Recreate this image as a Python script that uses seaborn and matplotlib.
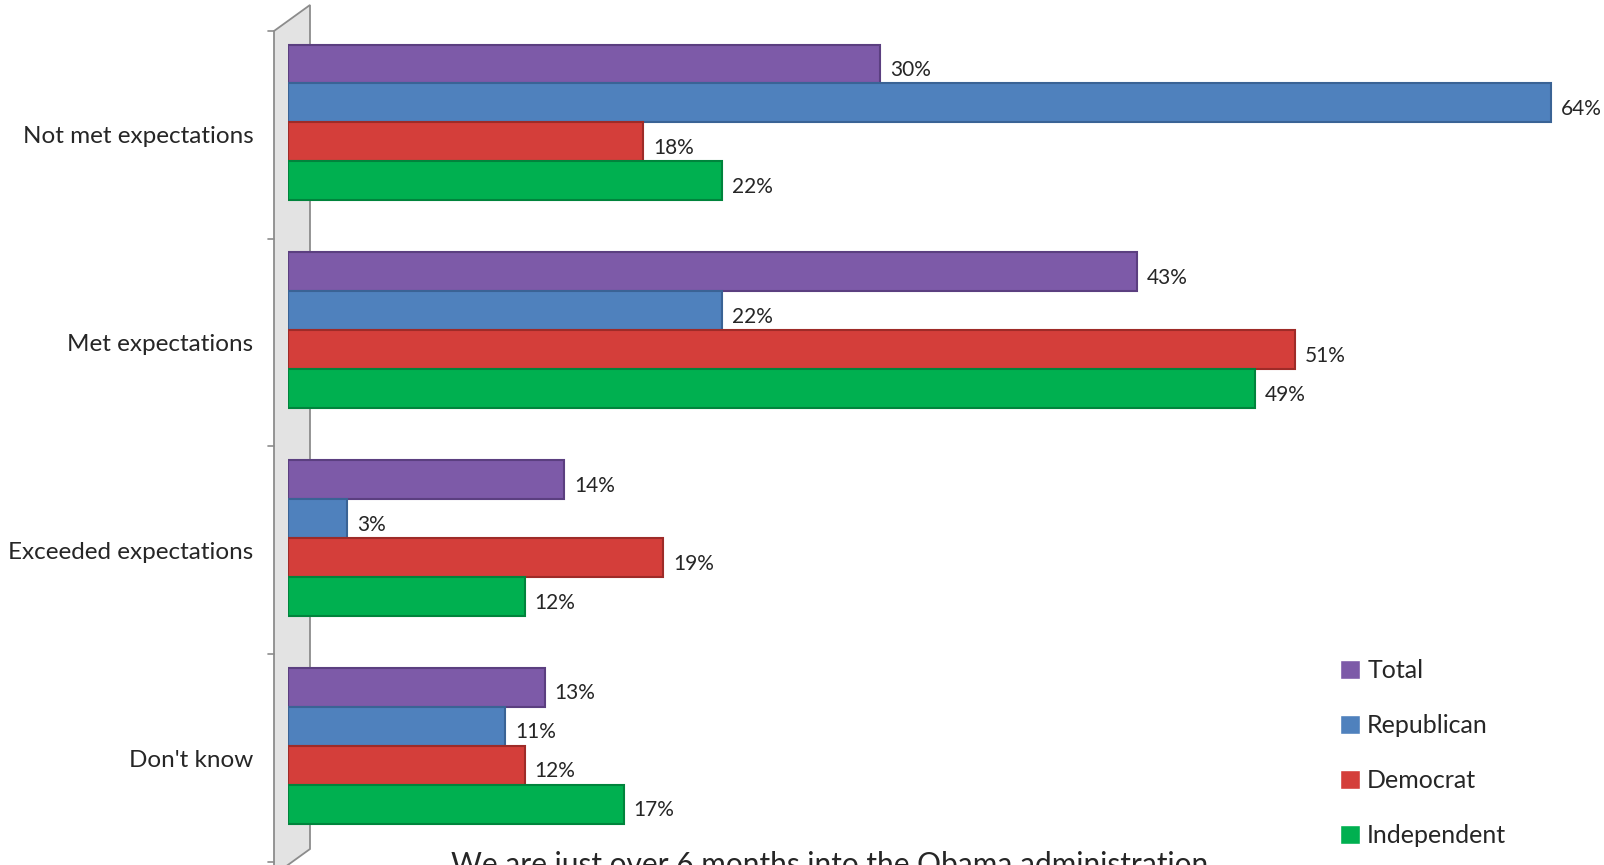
import matplotlib
matplotlib.use("Agg")
import matplotlib.pyplot as plt
import matplotlib.transforms as mtransforms
from matplotlib.patches import Polygon
import pandas as pd
import seaborn as sns

# data
categories = ["Not met expectations", "Met expectations", "Exceeded expectations", "Don't know"]
groups = ["Total", "Republican", "Democrat", "Independent"]
total = [30, 43, 14, 13]
republican = [64, 22, 3, 11]
democrat = [18, 51, 19, 12]
independent = [22, 49, 12, 17]
title = "We are just over 6 months into the Obama administration"

colors = ["#7D5AA8", "#4F81BD", "#D43E3A", "#00B050"]
edges = ["#5B3F80", "#3A6395", "#9E2B28", "#00843C"]

rows = []
for g, vals in zip(groups, [total, republican, democrat, independent]):
    for c, v in zip(categories, vals):
        rows.append({"category": c, "group": g, "value": v})
df = pd.DataFrame(rows)

sns.set_style("white")
plt.rcParams['font.family'] = ['Lato', 'DejaVu Sans']

W, H = 1604, 865
fig = plt.figure(figsize=(W / 100, H / 100), dpi=100)
ax = fig.add_axes([288 / W, 3 / H, 0.80, 831 / H])
ax.patch.set_visible(False)

sns.barplot(data=df, y="category", x="value", hue="group", order=categories,
            hue_order=groups, palette=colors, saturation=1, orient="h",
            width=0.75, ax=ax, legend=True)

# darker edges to hint at the bevelled 3D look
for cont, ec in zip(ax.containers, edges):
    for bar in cont:
        bar.set_edgecolor(ec)
        bar.set_linewidth(1.5)
    anns = ax.bar_label(cont, labels=[f"{int(v)}%" for v in cont.datavalues],
                        padding=7, fontsize=15, clip_on=False)
    for a in anns:
        a.xyann = (7, -4.5)  # labels sit a little low, as in the 3D original

ax.set_xlim(0, 65)
ax.set_ylim(3.56, -0.44)
ax.set_xlabel("")
ax.set_ylabel("")
ax.set_xticks([])
ax.set_yticks([i + 0.06 for i in range(len(categories))], categories)
ax.tick_params(axis="y", labelsize=17.5, pad=25, length=0)
for s in ["top", "right", "bottom", "left"]:
    ax.spines[s].set_visible(False)

# grey side wall behind the bars
pts = [(274 / W, 1 - 31 / H), (310 / W, 1 - 5 / H),
       (310 / W, 1 - 849 / H), (274 / W, 1 - 875 / H)]
fig.patches.append(Polygon(pts, closed=True, facecolor="#E3E3E3", edgecolor="#8C8C8C",
                           lw=1.3, transform=fig.transFigure, zorder=-1))

# boundary ticks on the left of the wall
btrans = mtransforms.blended_transform_factory(fig.transFigure, ax.transData)
for yb in [-0.44, 0.56, 1.56, 2.56, 3.56]:
    ax.plot([268 / W, 274 / W], [yb, yb], color="#8C8C8C", lw=1.2,
            clip_on=False, transform=btrans)

ax.legend(loc="lower left", bbox_to_anchor=(0.802, -0.009), frameon=False,
          fontsize=18, handlelength=0.8, handleheight=0.8,
          labelspacing=1.28, handletextpad=0.3)

fig.text(0.517, 0.016, title, ha="center", va="top", fontsize=21.5)

fig.savefig("out.png", dpi=100)
